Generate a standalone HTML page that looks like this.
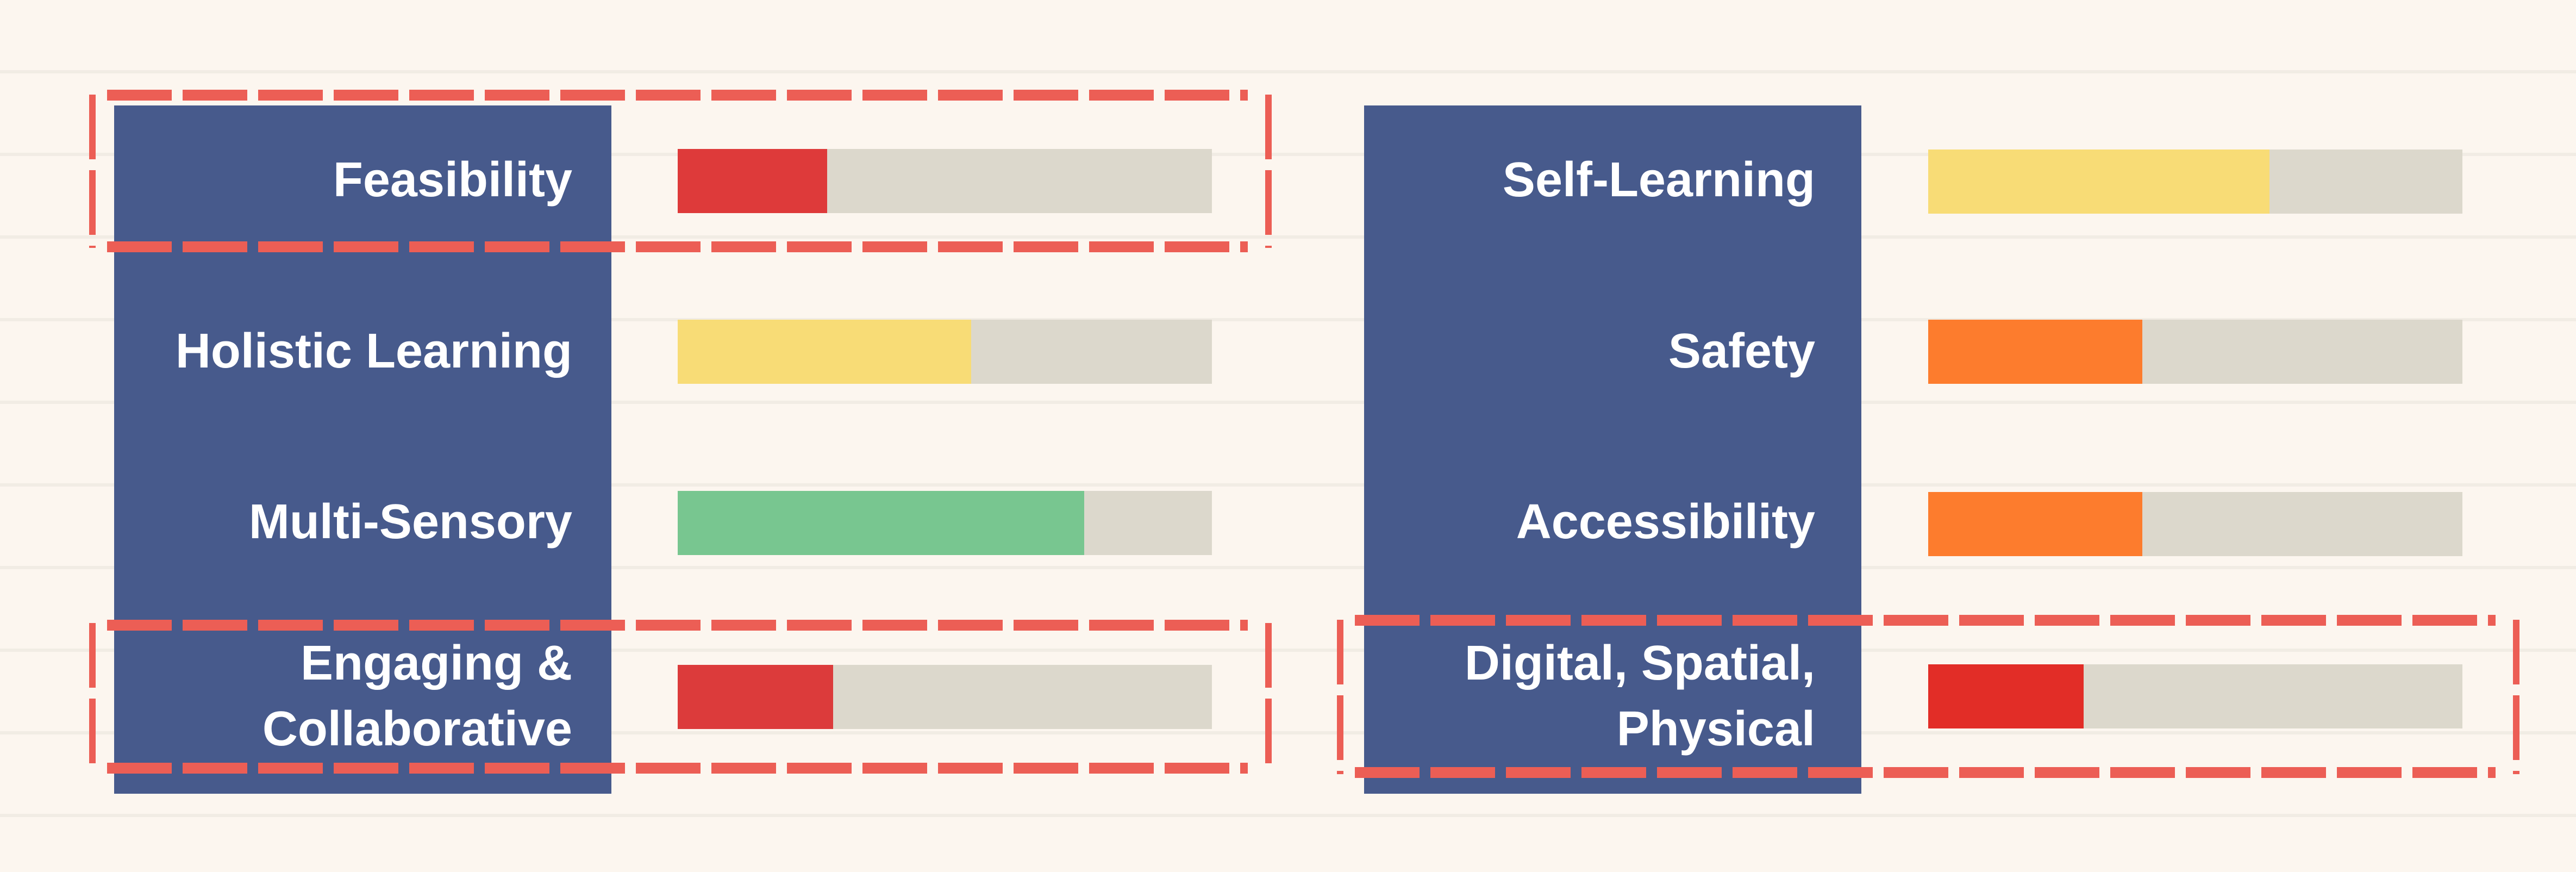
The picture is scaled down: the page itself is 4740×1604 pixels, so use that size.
<!DOCTYPE html>
<html><head><meta charset="utf-8"><style>
html,body{margin:0;padding:0}
body{width:4740px;height:1604px;position:relative;overflow:hidden;background:#fcf6ef;font-family:"Liberation Sans",sans-serif}
.g{position:absolute;left:0;width:4740px;height:6px;background:#f1ece4}
.blue{position:absolute;background:#475a8c;top:194px;height:1266px}
.lab{position:absolute;color:#fff;font-weight:bold;font-size:90px;text-align:right;line-height:121px;width:900px}
.bar{position:absolute;height:118px;background:#dcd8cc}
.bar div{height:100%}
svg{position:absolute;left:0;top:0}
</style></head><body>
<div class="g" style="top:129px"></div><div class="g" style="top:281px"></div><div class="g" style="top:433px"></div><div class="g" style="top:585px"></div><div class="g" style="top:737px"></div><div class="g" style="top:889px"></div><div class="g" style="top:1041px"></div><div class="g" style="top:1193px"></div><div class="g" style="top:1345px"></div><div class="g" style="top:1497px"></div>

<div class="blue" style="left:210px;width:915px"></div>
<div class="blue" style="left:2510px;width:915px"></div>

<div class="lab" style="left:153px;top:271px">Feasibility</div>
<div class="lab" style="left:153px;top:586px">Holistic Learning</div>
<div class="lab" style="left:153px;top:900px">Multi-Sensory</div>
<div class="lab" style="left:153px;top:1160px">Engaging &amp;<br>Collaborative</div>

<div class="lab" style="left:2440px;top:271px">Self-Learning</div>
<div class="lab" style="left:2440px;top:586px">Safety</div>
<div class="lab" style="left:2440px;top:900px">Accessibility</div>
<div class="lab" style="left:2440px;top:1160px">Digital, Spatial,<br>Physical</div>

<div class="bar" style="left:1247px;width:983px;top:274px"><div style="width:275px;background:#de3a3a"></div></div>
<div class="bar" style="left:1247px;width:983px;top:588px"><div style="width:540px;background:#f8dc76"></div></div>
<div class="bar" style="left:1247px;width:983px;top:903px"><div style="width:748px;background:#78c690"></div></div>
<div class="bar" style="left:1247px;width:983px;top:1223px"><div style="width:286px;background:#dc3b3b"></div></div>

<div class="bar" style="left:3548px;width:983px;top:275px"><div style="width:628px;background:#f8dc76"></div></div>
<div class="bar" style="left:3548px;width:983px;top:588px"><div style="width:394px;background:#fd7c2d"></div></div>
<div class="bar" style="left:3548px;width:983px;top:905px"><div style="width:394px;background:#fd7c2d"></div></div>
<div class="bar" style="left:3548px;width:983px;top:1222px"><div style="width:286px;background:#e22d27"></div></div>

<svg width="4740" height="1604" viewBox="0 0 4740 1604">
<g stroke="#ec5e55" fill="none" stroke-dasharray="119 20">
<line x1="197" y1="175" x2="2296" y2="175" stroke-width="20"/>
<line x1="197" y1="454" x2="2296" y2="454" stroke-width="20"/>
<line x1="170" y1="174" x2="170" y2="456" stroke-width="12"/>
<line x1="2334" y1="174" x2="2334" y2="456" stroke-width="12"/>

<line x1="197" y1="1150" x2="2296" y2="1150" stroke-width="20"/>
<line x1="197" y1="1413" x2="2296" y2="1413" stroke-width="20"/>
<line x1="170" y1="1146" x2="170" y2="1418" stroke-width="12"/>
<line x1="2334" y1="1146" x2="2334" y2="1418" stroke-width="12"/>

<line x1="2493" y1="1141" x2="4592" y2="1141" stroke-width="20"/>
<line x1="2493" y1="1421" x2="4592" y2="1421" stroke-width="20"/>
<line x1="2466" y1="1140" x2="2466" y2="1424" stroke-width="12"/>
<line x1="4630" y1="1140" x2="4630" y2="1424" stroke-width="12"/>
</g>
</svg>
</body></html>
